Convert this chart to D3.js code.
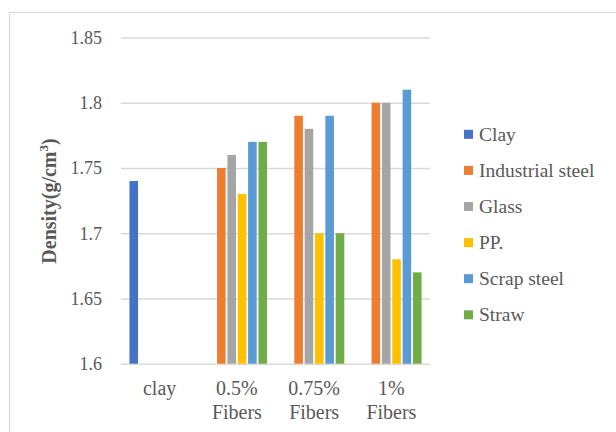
<!DOCTYPE html>
<html><head><meta charset="utf-8">
<script src="https://cdn.jsdelivr.net/npm/d3@7"></script>
<style>body{margin:0;background:#fff}svg{display:block}</style>
</head><body><svg id="c" width="616" height="432"></svg>
<script>
const categories = [["clay"], ["0.5%", "Fibers"], ["0.75%", "Fibers"], ["1%", "Fibers"]];
const seriesNames = ["Clay", "Industrial steel", "Glass", "PP.", "Scrap steel", "Straw"];
const seriesColors = ["#4472c4", "#ed7d31", "#a5a5a5", "#ffc000", "#5b9bd5", "#70ad47"];
const clay = [1.74, null, null, null];
const industrialSteel = [null, 1.75, 1.79, 1.80];
const glass = [null, 1.76, 1.78, 1.80];
const pp = [null, 1.73, 1.70, 1.68];
const scrapSteel = [null, 1.77, 1.79, 1.81];
const straw = [null, 1.77, 1.70, 1.67];
const yTicks = [1.6, 1.65, 1.7, 1.75, 1.8, 1.85];
const seriesValues = [clay, industrialSteel, glass, pp, scrapSteel, straw];

const svg = d3.select("#c");
const FF = '"Liberation Serif"';
const L = 121, R = 430, T = 37.5, B = 363.7;

svg.append("rect").attr("x", 9.5).attr("y", 12.5).attr("width", 640).attr("height", 440)
  .attr("fill", "none").attr("stroke", "#d9d9d9").attr("stroke-width", 1.2);

const y = d3.scaleLinear().domain([1.6, 1.85]).range([B, T]);
const x0 = d3.scaleBand().domain(d3.range(categories.length)).range([L, R]).paddingInner(0).paddingOuter(0);
const gw = 62;
const x1 = d3.scaleBand().domain(d3.range(seriesNames.length)).range([0, gw]).paddingInner(0.17).paddingOuter(0.08);

const yAxis = d3.axisLeft(y).tickValues(yTicks).tickSize(-(R - L)).tickFormat(d => String(+d.toFixed(2)));
const ga = svg.append("g").attr("transform", `translate(${L},0)`).call(yAxis);
ga.select(".domain").remove();
ga.selectAll(".tick line").attr("stroke", "#d9d9d9").attr("stroke-width", 1.5);
ga.selectAll(".tick text").attr("x", -19).attr("dy", "0.33em").attr("fill", "#595959")
  .style("font-family", FF).style("font-size", "18px");

const groups = svg.append("g").selectAll("g").data(categories).join("g")
  .attr("transform", (d, i) => `translate(${x0(i) + (x0.bandwidth() - gw) / 2},0)`);
groups.selectAll("rect").data((d, i) => seriesValues.map((s, j) => ({ v: s[i], j })).filter(e => e.v != null))
  .join("rect")
  .attr("x", e => x1(e.j)).attr("width", x1.bandwidth())
  .attr("y", e => y(e.v)).attr("height", e => y(1.6) - y(e.v))
  .attr("fill", e => seriesColors[e.j]);

categories.forEach((lines, i) => {
  const cx = x0(i) + x0.bandwidth() / 2;
  const t = svg.append("text").attr("x", cx).attr("y", 395).attr("text-anchor", "middle")
    .attr("fill", "#595959").style("font-family", FF).style("font-size", "20px");
  lines.forEach((ln, k) => t.append("tspan").attr("x", cx).attr("dy", k === 0 ? 0 : 24).text(ln));
});

const yt = svg.append("text").attr("transform", "translate(56,201) rotate(-90)").attr("text-anchor", "middle")
  .attr("fill", "#595959").style("font-family", FF).style("font-size", "20px").style("font-weight", "bold");
yt.append("tspan").text("Density(g/cm");
yt.append("tspan").style("font-size", "13px").attr("dy", -8).text("3");
yt.append("tspan").attr("dy", 8).text(")");

const lg = svg.append("g").selectAll("g").data(seriesNames).join("g")
  .attr("transform", (d, i) => `translate(464,${134.3 + i * 36.1})`);
lg.append("rect").attr("x", 0).attr("y", -4.5).attr("width", 9).attr("height", 9).attr("fill", (d, i) => seriesColors[i]);
lg.append("text").attr("x", 15).attr("y", 6.5).attr("fill", "#595959").style("font-family", FF).style("font-size", "19.5px").text(d => d);
</script></body></html>
